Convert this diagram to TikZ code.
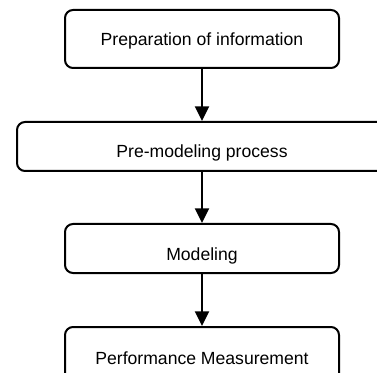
\documentclass[tikz,border=0pt]{standalone}
\usepackage{fontspec}
\setmainfont{Liberation Sans}
\usetikzlibrary{arrows.meta}
\begin{document}
\begin{tikzpicture}[x=0.75pt,y=-0.75pt,
  box/.style={draw=black,line width=1.5pt,rounded corners=6pt,fill=white,
    minimum height=36.75pt,inner sep=0pt,font=\fontsize{13.2}{15}\selectfont,
    text depth=0pt},
  narrowbox/.style={box,minimum width=205.5pt},
  flow/.style={line width=1.5pt,-{Triangle[length=11pt,width=10.5pt]}}]
\clip (0,0) rectangle (377,373);
\fill[white] (0,0) rectangle (377,373);
\node[narrowbox,minimum height=43.5pt,text height=9.4pt] (b1) at (202,39) {Preparation of information};
\node[box,minimum width=288pt,text height=17pt,anchor=west] (b2) at (16,146.5) {\hspace*{0pt}};
\node (t2) at (202,146.5) [font=\fontsize{13.2}{15}\selectfont,inner sep=0pt,text height=17pt,text depth=0pt] {Pre-modeling process};
\node[narrowbox,text height=17.5pt] (b3) at (202,248.5) {Modeling};
\node[narrowbox,minimum height=42pt,text height=13.6pt] (b4) at (202,355) {Performance Measurement};
\draw[flow] (b1.south) -- (b1.south |- b2.north);
\draw[flow] (b1.south |- b2.south) -- (b3.north);
\draw[flow] (b3) -- (b4);
\end{tikzpicture}
\end{document}
